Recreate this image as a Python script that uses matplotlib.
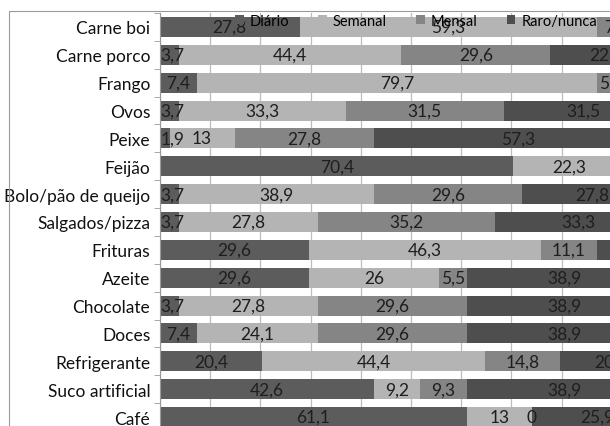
import numpy as np
import matplotlib as mpl
mpl.use('Agg')
import matplotlib.pyplot as plt
from matplotlib.patches import Rectangle
from matplotlib.ticker import MultipleLocator, FixedLocator

plt.rcParams['font.family'] = ['Lato', 'DejaVu Sans']

# frequência de consumo (%) por alimento
alimentos = ['Carne boi', 'Carne porco', 'Frango', 'Ovos', 'Peixe', 'Feijão',
             'Bolo/pão de queijo', 'Salgados/pizza', 'Frituras', 'Azeite',
             'Chocolate', 'Doces', 'Refrigerante', 'Suco artificial', 'Café']
diario = [27.8, 3.7, 7.4, 3.7, 1.9, 70.4, 3.7, 3.7, 29.6, 29.6, 3.7, 7.4, 20.4, 42.6, 61.1]
semanal = [59.3, 44.4, 79.7, 33.3, 13, 22.3, 38.9, 27.8, 46.3, 26, 27.8, 24.1, 44.4, 9.2, 13]
mensal = [7.4, 29.6, 5.5, 31.5, 27.8, 3.7, 29.6, 35.2, 11.1, 5.5, 29.6, 29.6, 14.8, 9.3, 0]
raro = [5.5, 22.2, 7.4, 31.5, 57.3, 3.6, 27.8, 33.3, 13.0, 38.9, 38.9, 38.9, 20.4, 38.9, 25.9]

series = [('Diário', diario, '#5c5c5c'),
          ('Semanal', semanal, '#b4b4b4'),
          ('Mensal', mensal, '#858585'),
          ('Raro/nunca', raro, '#4e4e4e')]

fs = 12.5

fig = plt.figure(figsize=(6.1, 4.27), dpi=100)
# the plot area runs past the right and bottom edges of the image
ax = fig.add_axes([160 / 610, 1 - 432 / 427, 502 / 610, 418 / 427])

y = np.arange(len(alimentos))
left = np.zeros(len(alimentos))
for nome, vals, cor in series:
    vals = np.array(vals, dtype=float)
    ax.barh(y, vals, left=left, height=0.72, color=cor, label=nome, zorder=2)
    for yi, l, v in zip(y, left, vals):
        txt = ('%g' % v).replace('.', ',')
        xc, ha = l + v / 2, 'center'
        if xc < 2:
            # keep very thin first segments' labels inside the plot
            xc, ha = 0.1, 'left'
        ax.text(xc, yi, txt, ha=ha, va='center', fontsize=fs,
                color='#1e1e1e', zorder=3)
    left += vals

ax.set_xlim(0, 100)
ax.set_ylim(len(alimentos) - 0.5, -0.5)
ax.set_yticks(y)
ax.set_yticklabels(alimentos, fontsize=fs, color='#111111')
ax.yaxis.set_minor_locator(FixedLocator(np.arange(-0.5, len(alimentos), 1)))
ax.tick_params(axis='y', which='major', length=0, pad=7)
ax.tick_params(axis='y', which='minor', length=4, color='#9a9a9a')
ax.xaxis.set_major_locator(MultipleLocator(10))
ax.tick_params(axis='x', which='both', length=0, labelbottom=False)
ax.grid(axis='x', color='#bdbdbd', linewidth=0.9, zorder=0)
ax.set_axisbelow(True)
for s in ['top', 'right', 'bottom']:
    ax.spines[s].set_visible(False)
ax.spines['left'].set_color('#9a9a9a')
ax.spines['left'].set_linewidth(0.8)

# chart area border
fig.add_artist(Rectangle((9 / 610, -0.2), 2, 1.2 - 12 / 427, transform=fig.transFigure,
                         fill=False, edgecolor='#9a9a9a', linewidth=0.8))

fig.legend(loc='center', bbox_to_anchor=(416 / 610, 1 - 22 / 427), ncol=4,
           frameon=False, fontsize=10.5, handlelength=0.6, handleheight=0.6,
           handletextpad=0.4, columnspacing=2.0, borderpad=0)

fig.savefig('out.png', dpi=100)
